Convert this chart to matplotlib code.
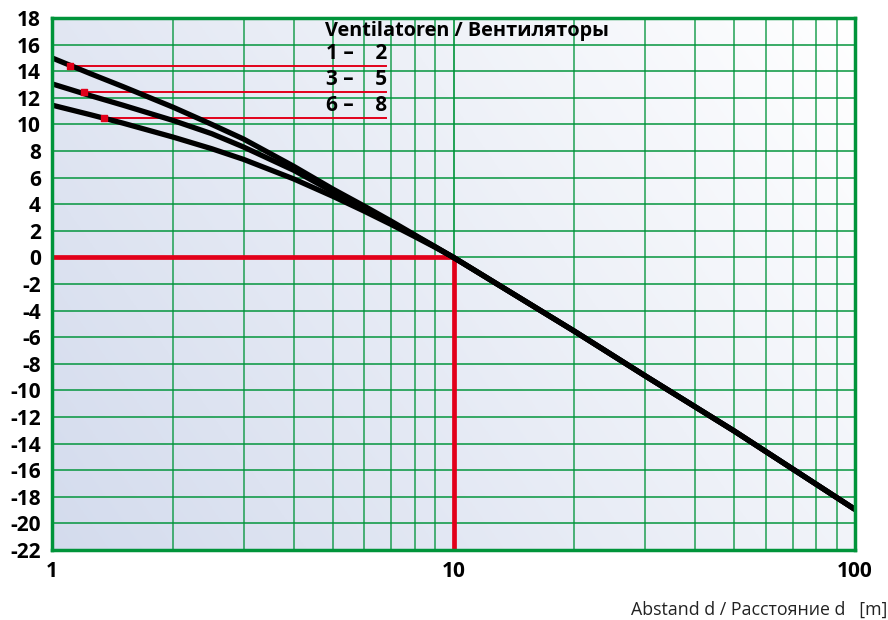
import numpy as np
import matplotlib
matplotlib.use("Agg")
import matplotlib.pyplot as plt
from matplotlib.ticker import FixedLocator, NullFormatter

# Data
dist = [1, 1.25, 1.5, 2, 2.5, 3, 4, 5, 6, 7, 8, 9, 10, 20, 30, 50, 100]
curve_1_2 = [15.0, 13.8, 12.85, 11.3, 10.0, 8.9, 6.85, 5.15, 3.85, 2.72, 1.7, 0.8, 0.0,
             -5.55, -8.9, -13.05, -18.95]
curve_3_5 = [13.05, 12.15, 11.45, 10.3, 9.3, 8.3, 6.55, 4.95, 3.7, 2.62, 1.65, 0.8, 0.0,
             -5.55, -8.9, -13.05, -18.95]
curve_6_8 = [11.45, 10.72, 10.1, 9.05, 8.17, 7.37, 5.9, 4.6, 3.47, 2.47, 1.57, 0.76, 0.0,
             -5.55, -8.9, -13.05, -18.95]
marker_x = [1.11, 1.20, 1.35]
marker_y = [14.4, 12.4, 10.45]
legend_labels = ["1 –    2", "3 –    5", "6 –    8"]
y_ticks = list(range(-22, 19, 2))
x_ticks = [1, 10, 100]
x_minor = [2, 3, 4, 5, 6, 7, 8, 9, 20, 30, 40, 50, 60, 70, 80, 90]

plt.rcParams['font.family'] = ['Open Sans', 'DejaVu Sans']
green = '#00943a'
red = '#e2001a'

fig = plt.figure(figsize=(8.88, 6.2), dpi=100)
ax = fig.add_axes([52/888, 1-550/620, (855-52)/888, (550-18)/620])
ax.set_xscale('log')
ax.set_xlim(1, 100)
ax.set_ylim(-22, 18)

# gradient background
n = 256
gx, gy = np.meshgrid(np.linspace(0, 1, n), np.linspace(0, 1, n))
t = np.clip((gx * 0.75 + gy * 0.35) / 1.1, 0, 1)
c0 = np.array([0.83, 0.86, 0.93])
c1 = np.array([1.0, 1.0, 1.0])
img = c0[None, None, :] * (1 - t[..., None]) + c1[None, None, :] * t[..., None]
ax.imshow(img, extent=[0, 1, 0, 1], transform=ax.transAxes, origin='lower',
          aspect='auto', zorder=0)

# grid
for xv in x_minor:
    ax.axvline(xv, color=green, lw=1.2, alpha=0.8, zorder=1)
for yv in y_ticks:
    ax.axhline(yv, color=green, lw=1.2, alpha=0.9, zorder=1)
ax.axvline(10, color=green, lw=1.2, zorder=1)

# red guide lines
ax.plot([1, 10], [0, 0], color=red, lw=3.4, zorder=3, solid_capstyle='butt')
ax.plot([10, 10], [0, -22], color=red, lw=3.4, zorder=3, solid_capstyle='butt')

# legend lines
for mx, my in zip(marker_x, marker_y):
    ax.plot([mx, 6.8], [my, my], color=red, lw=1.4, zorder=3)

# curves
for cy in (curve_1_2, curve_3_5, curve_6_8):
    ax.plot(dist, cy, color='black', lw=3.8, zorder=4, solid_capstyle='butt',
            solid_joinstyle='round')

ax.scatter(marker_x, marker_y, marker='s', s=22, color=red, zorder=5)

# legend text
ax.text(4.78, 17.0, "Ventilatoren / Вентиляторы", fontsize=14.3, fontweight='bold',
        ha='left', va='center', zorder=6)
for lbl, my in zip(legend_labels, marker_y):
    ax.text(6.85, my + 0.95, lbl, fontsize=15, fontweight='bold', ha='right',
            va='center', zorder=6)

# ticks
ax.set_yticks(y_ticks)
ax.set_yticklabels([str(v) for v in y_ticks], fontsize=15, fontweight='bold')
ax.xaxis.set_major_locator(FixedLocator(x_ticks))
ax.set_xticklabels(['1', '10', '100'], fontsize=15, fontweight='bold')
ax.xaxis.set_minor_formatter(NullFormatter())
ax.tick_params(axis='both', which='both', length=0)
ax.tick_params(axis='y', pad=8)
ax.tick_params(axis='x', pad=8)

for s in ax.spines.values():
    s.set_color(green)
    s.set_linewidth(2.5)
    s.set_zorder(7)

fig.text(887/888, 1-610/620, "Abstand d / Расстояние d   [m]", fontsize=12.8,
         ha='right', va='center', color='#222222')

fig.savefig('out.png', dpi=100)
